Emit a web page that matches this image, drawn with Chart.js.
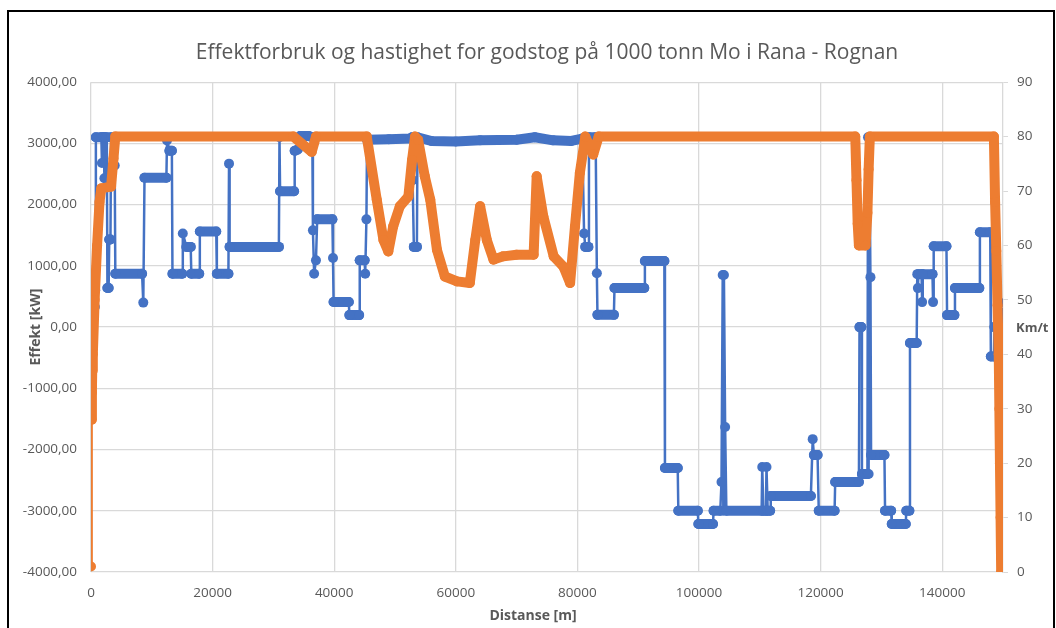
<!DOCTYPE html>
<html>
<head>
<meta charset="utf-8">
<script src="https://cdn.jsdelivr.net/npm/chart.js@4.4.1/dist/chart.umd.min.js"></script>
<style>
  html, body { margin: 0; padding: 0; background: #fff; overflow: hidden; }
  #frame { position: absolute; left: 7px; top: 10px; width: 1048px; height: 640px; border: 2px solid #000; box-sizing: border-box; }
  #wrap { position: absolute; left: 0; top: 0; width: 1056px; height: 628px; }
</style>
</head>
<body>
<div id="frame"></div>
<div id="wrap"><canvas id="chart"></canvas></div>
<script>
// Effekt (kW) langs strekningen, blå serie
const effektDist = [
    0, 100, 600, 700, 800, 1700, 1800, 1900, 2100, 2200, 2300, 2600, 2700, 2900, 3000, 3200, 3300, 3800, 3900, 4000,
    8400, 8600, 8800, 12400, 12500, 12900, 13300, 13400, 15000, 15100, 15700, 16400, 16500, 17800, 17900, 20600,
    20700, 22600, 22700, 22800, 30900, 31000, 31100, 33400, 33500, 34000, 34400, 35800, 36400, 36500, 36700, 37000,
    37200, 39700, 39800, 39900, 42400, 42500, 44100, 44200, 45000, 45100, 45300, 45400, 49000, 52500, 52800, 52900,
    53100, 53600, 53700, 56000, 60000, 64000, 70000, 73000, 76000, 79000, 80800, 81100, 81300, 81800, 81900, 83000,
    83200, 83300, 86000, 86100, 91000, 91100, 94300, 94400, 96500, 96600, 99800, 99900, 102300, 102400, 103500,
    103700, 103900, 104000, 104100, 104300, 104500, 110300, 110400, 110600, 111000, 111100, 111300, 111700, 111800,
    118400, 118700, 118900, 119500, 119700, 122300, 122400, 126300, 126400, 126700, 126800, 127700, 127800, 127900,
    128000, 128200, 128300, 130500, 130600, 131600, 131700, 134000, 134100, 134600, 134700, 135800, 135900, 136000,
    136100, 136600, 136700, 136800, 138400, 138500, 138600, 140700, 140800, 142000, 142100, 146100, 146200, 147900,
    148000, 148500, 148600, 149000, 149500, 149900, 150000
];
const effektKW = [
    150, 330, 330, 600, 3100, 3100, 2680, 3100, 3100, 2430, 3100, 3100, 640, 640, 1430, 1430, 3100, 3100, 2640, 870,
    870, 400, 2440, 2440, 3050, 2880, 2880, 870, 870, 1530, 1310, 1310, 870, 870, 1560, 1560,
    870, 870, 2670, 1310, 1310, 3100, 2220, 2220, 2880, 2900, 3120, 3120, 3100, 1580, 870, 1090,
    1760, 1760, 1130, 410, 410, 196, 196, 1090, 1090, 870, 1760, 3060, 3070, 3080, 3100, 2400,
    1310, 1310, 3100, 3040, 3030, 3050, 3060, 3100, 3050, 3040, 3080, 1530, 1310, 1310, 3100, 3100,
    880, 200, 200, 640, 640, 1080, 1080, -2300, -2300, -3000, -3000, -3216, -3216, -3000, -3000,
    -2530, 850, -3000, 850, -1633, -3000, -3000, -2286, -3000, -3000, -2286, -3000, -3000, -2760,
    -2760, -1830, -2090, -2090, -3000, -3000, -2530, -2530, 0, 0, -2400, -2400, 3100, -2400,
    3100, 816, -2090, -2090, -3000, -3000, -3216, -3216, -3000, -3000, -261, -261, 865, 637,
    865, 865, 408, 865, 865, 408, 1320, 1320, 196, 196, 637, 637, 1550, 1550,
    -480, -480, 0, 0, 400, 230, 0
];

// Hastighet (km/t) langs strekningen, oransje serie
const fartDist = [
    0, 100, 150, 200, 300, 600, 1000, 1400, 1700, 3300, 3700, 4000, 33300, 36300, 37000, 45350, 47000, 48100,
    48900, 49700, 50800, 52200, 52800, 53300, 53800, 54900, 55800, 56900, 58200, 60200, 62300, 63200, 64000,
    65100, 66200, 67800, 70000, 72800, 73300, 74400, 76100, 77700, 78800, 79600, 80400, 81300, 82600, 83500,
    125700, 125900, 126100, 126300, 127400, 127700, 127900, 128100, 148500, 148700, 148900, 149100, 149300,
    149400, 149500, 149600, 149700
];
const fartKmt = [
    1, 28, 33, 37, 40, 50, 60, 68, 70.5, 70.8, 76, 80, 80, 77.2, 80, 80, 68.4, 61,
    58.9, 63.5, 67.2, 69, 75.7, 80, 79.4, 72.7, 68.4, 59.2, 54.3, 53.4, 53.1, 61, 67.2,
    61, 57.4, 58, 58.3, 58.3, 72.7, 65.3, 58, 56.1, 53.1, 63.5, 73.3, 80, 76.7, 80,
    80, 72, 64, 60, 60, 66, 74, 80, 80, 68, 59, 49, 40,
    30, 20, 10, 0
];

const distTicks = [0, 20000, 40000, 60000, 80000, 100000, 120000, 140000];

const blue = "#4472C4";
const orange = "#ED7D31";
const textGrey = "#595959";
const gridGrey = "#D9D9D9";

Chart.defaults.font.family = "'Open Sans', sans-serif";
Chart.defaults.color = textGrey;

const toPoints = (xs, ys) => xs.map((x, i) => ({ x: x, y: ys[i] }));

// tette punkter gir tykk strek på flate partier, enkeltsprang blir tynne
const blueWidth = (ctx) => {
    const dx = Math.abs(ctx.p1.x - ctx.p0.x);
    const dy = Math.abs(ctx.p1.y - ctx.p0.y);
    return dy > dx ? 2.5 : 10;
};
const orangeWidth = (ctx) => ctx.p0DataIndex === 0 ? 2.5 : 10;

// aksetitler som Excel plasserer litt annerledes enn Chart.js
const axisTitles = {
    id: "axisTitles",
    afterDraw(chart) {
        const ctx = chart.ctx;
        const y2 = chart.scales.y2;
        const x = chart.scales.x;
        ctx.save();
        ctx.fillStyle = textGrey;
        ctx.textBaseline = "middle";
        ctx.font = "bold 13px 'Open Sans'";
        ctx.textAlign = "left";
        ctx.fillText("Km/t", y2.left + 13, (y2.top + y2.bottom) / 2 + 1);
        ctx.font = "bold 14px 'Open Sans'";
        ctx.textAlign = "center";
        ctx.fillText("Distanse [m]", (x.left + x.right) / 2 - 14, x.bottom - 12);
        ctx.restore();
    }
};

const formatKW = (v) => v.toFixed(2).replace(".", ",");

new Chart(document.getElementById("chart"), {
    type: "scatter",
    data: {
        datasets: [
            {
                label: "Hastighet",
                data: toPoints(fartDist, fartKmt),
                yAxisID: "y2",
                showLine: true,
                borderColor: orange,
                backgroundColor: orange,
                pointRadius: 5,
                pointBorderWidth: 0,
                borderWidth: 10,
                borderCapStyle: "round",
                borderJoinStyle: "round",
                segment: { borderWidth: orangeWidth },
            },
            {
                label: "Effekt",
                data: toPoints(effektDist, effektKW),
                yAxisID: "y",
                showLine: true,
                borderColor: blue,
                backgroundColor: blue,
                pointRadius: 5,
                pointBorderWidth: 0,
                borderWidth: 2.5,
                borderCapStyle: "round",
                borderJoinStyle: "round",
                segment: { borderWidth: blueWidth },
            },
        ],
    },
    options: {
        responsive: true,
        maintainAspectRatio: false,
        animation: false,
        layout: { padding: { left: 20, right: 0, top: 0, bottom: 0 } },
        plugins: {
            legend: { display: false },
            tooltip: { enabled: false },
            title: {
                display: true,
                fullSize: false,
                text: "Effektforbruk og hastighet for godstog på 1000 tonn Mo i Rana - Rognan",
                color: textGrey,
                font: { size: 21, weight: "normal" },
                padding: { top: 40, bottom: 17 },
            },
        },
        scales: {
            x: {
                type: "linear",
                min: 0,
                max: 150000,
                afterBuildTicks: (s) => { s.ticks = distTicks.map((v) => ({ value: v })); },
                ticks: {
                    autoSkip: false,
                    maxRotation: 0,
                    padding: 13,
                    color: textGrey,
                    font: { size: 13.5 },
                    callback: (v) => String(v),
                },
                grid: { color: gridGrey, lineWidth: 1.3, drawTicks: false },
                border: { display: false },
                afterFit: (s) => { s.height = 56; },
            },
            y: {
                position: "left",
                min: -4000,
                max: 4000,
                ticks: {
                    stepSize: 1000,
                    padding: 14,
                    color: textGrey,
                    font: { size: 13.5 },
                    callback: (v) => formatKW(v),
                },
                grid: { color: gridGrey, lineWidth: 1.3, drawTicks: false },
                border: { display: false },
                title: {
                    display: true,
                    text: "Effekt [kW]",
                    color: textGrey,
                    font: { size: 14, weight: "bold" },
                    padding: { top: 8, bottom: 0 },
                },
                afterFit: (s) => { s.width = 71; },
            },
            y2: {
                position: "right",
                min: 0,
                max: 90,
                ticks: {
                    stepSize: 10,
                    padding: 9,
                    color: textGrey,
                    font: { size: 13.5 },
                },
                grid: { drawOnChartArea: false, drawTicks: true, tickLength: 5, tickColor: gridGrey, color: gridGrey },
                border: { display: true, color: gridGrey, width: 1.3 },
                afterFit: (s) => { s.width = 53; },
            },
        },
    },
    plugins: [axisTitles],
});
</script>
</body>
</html>
